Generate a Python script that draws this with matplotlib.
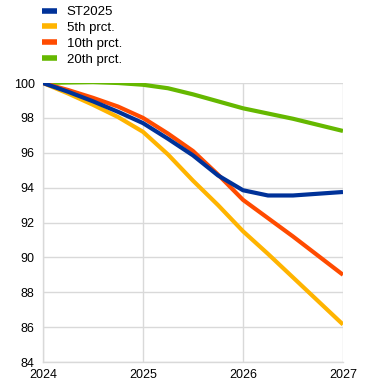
import matplotlib.pyplot as plt

plt.rcParams['font.family'] = ['Liberation Sans', 'DejaVu Sans']

# quarterly points, 2024 to 2027
quarters = [2024.0, 2024.25, 2024.5, 2024.75, 2025.0, 2025.25, 2025.5, 2025.75,
            2026.0, 2026.25, 2026.5, 2026.75, 2027.0]

st2025 = [100, 99.5, 98.95, 98.35, 97.7, 96.8, 95.85, 94.7, 93.85, 93.55, 93.55, 93.65, 93.75]
p5 = [100, 99.4, 98.75, 98.05, 97.2, 95.9, 94.4, 93.0, 91.5, 90.2, 88.85, 87.5, 86.15]
p10 = [100, 99.6, 99.15, 98.65, 98.0, 97.1, 96.1, 94.75, 93.3, 92.25, 91.2, 90.1, 89.0]
p20 = [100, 100.03, 100.05, 100.0, 99.9, 99.7, 99.35, 98.95, 98.55, 98.25, 97.95, 97.6, 97.25]

series_names = ["ST2025", "5th prct.", "10th prct.", "20th prct."]
colors = ["#003299", "#ffb400", "#ff4b00", "#65b800"]

fig = plt.figure(figsize=(3.72, 3.89), dpi=100)
ax = fig.add_axes([0.1156, 0.0694, 0.8064, 0.7172])

# green first so the others sit on top
order = [3, 1, 2, 0]
data = [st2025, p5, p10, p20]
lines = {}
for i in order:
    ln, = ax.plot(quarters, data[i], color=colors[i], lw=3.0, label=series_names[i],
                  solid_joinstyle="round", solid_capstyle="butt", zorder=3)
    lines[i] = ln

ax.set_xlim(2024, 2027)
ax.set_ylim(84, 100)
ax.set_xticks([2024, 2025, 2026, 2027])
ax.set_xticklabels(["2024", "2025", "2026", "2027"])
ax.set_yticks(range(84, 101, 2))
ax.tick_params(length=0, labelsize=9, colors="#000000", pad=6)
ax.tick_params(axis="x", pad=5)
ax.grid(True, color="#d9d9d9", lw=1)
ax.set_axisbelow(True)
for s in ["top", "right"]:
    ax.spines[s].set_visible(False)
for s in ["left", "bottom"]:
    ax.spines[s].set_color("#d9d9d9")
    ax.spines[s].set_linewidth(1)

leg = fig.legend([lines[i] for i in range(4)], series_names, loc="upper left",
                 bbox_to_anchor=(0.085, 1.012), frameon=False, fontsize=9.5,
                 handlelength=1.1, handletextpad=0.75, labelspacing=0.28, borderpad=0.3)
for h in leg.legend_handles:
    h.set_linewidth(4)

fig.savefig("out.png", dpi=100)
